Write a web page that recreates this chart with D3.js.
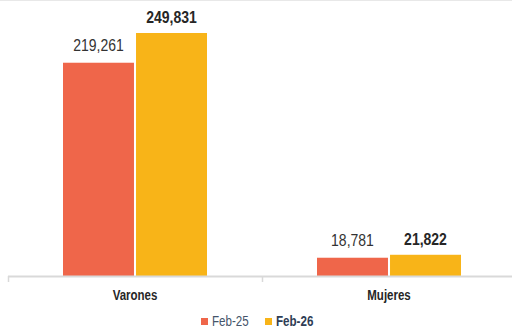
<!DOCTYPE html>
<html>
<head>
<meta charset="utf-8">
<script src="https://cdn.jsdelivr.net/npm/d3@7"></script>
<style>
  html, body { margin: 0; padding: 0; background: #fff; }
  svg { display: block; font-family: "Liberation Sans", Arial, sans-serif; }
</style>
</head>
<body>
<svg id="chart" width="512" height="330"></svg>
<script>
// Población por sexo, comparación Feb-25 vs Feb-26
const categories = ["Varones", "Mujeres"];
const seriesNames = ["Feb-25", "Feb-26"];
const feb25 = [219261, 18781];
const feb26 = [249831, 21822];
const seriesColors = ["#EF664A", "#F8B418"];

const svg = d3.select("#chart");
const W = 512, H = 330;
const baseY = 276;

// thin frame line at the top
svg.append("line")
  .attr("x1", 0).attr("x2", W).attr("y1", 0.5).attr("y2", 0.5)
  .attr("stroke", "#e8e8e8").attr("stroke-width", 1);

const x0 = d3.scaleBand().domain(categories).range([8, 516]).paddingInner(0).paddingOuter(0);
const x1 = d3.scaleBand().domain(seriesNames).range([0, 144]).paddingInner(0.028);
const y = d3.scaleLinear().domain([0, 280000]).range([baseY, baseY - 280000 * 243 / 249831]);

const values = [feb25, feb26];

const groups = svg.selectAll("g.cat")
  .data(categories)
  .join("g")
  .attr("class", "cat")
  .attr("transform", c => `translate(${x0(c) + (x0.bandwidth() - 144) / 2},0)`);

groups.each(function(c, ci) {
  const g = d3.select(this);
  seriesNames.forEach((s, si) => {
    const v = values[si][ci];
    g.append("rect")
      .attr("x", x1(s))
      .attr("width", x1.bandwidth())
      .attr("y", y(v))
      .attr("height", baseY - y(v))
      .attr("fill", seriesColors[si]);
    const lx = x1(s) + x1.bandwidth() / 2;
    const ly = y(v) - (si === 0 ? 12 : 10);
    g.append("text")
      .attr("transform", `translate(${lx},${ly}) scale(1,1.15)`)
      .attr("text-anchor", "middle")
      .attr("font-size", si === 0 ? 14 : 14)
      .attr("font-weight", si === 0 ? "normal" : "bold")
      .attr("fill", si === 0 ? "#333333" : "#262626")
      .text(d3.format(",")(v));
  });
});

// category axis
const axis = d3.axisBottom(x0).tickSize(0).tickPadding(0);
const ax = svg.append("g").attr("transform", `translate(0,${baseY})`);
ax.append("line").attr("x1", 8).attr("x2", W).attr("y1", 0.5).attr("y2", 0.5)
  .attr("stroke", "#d9d9d9").attr("stroke-width", 2);
[8, x0("Mujeres")].forEach(t => {
  ax.append("line").attr("x1", t + 0.5).attr("x2", t + 0.5).attr("y1", 0).attr("y2", 6)
    .attr("stroke", "#d9d9d9").attr("stroke-width", 1.5);
});
categories.forEach(c => {
  const cx = x0(c) + x0.bandwidth() / 2;
  ax.append("text")
    .attr("transform", `translate(${cx - 0},${24}) scale(1,1.2)`)
    .attr("text-anchor", "middle")
    .attr("font-size", 11.5)
    .attr("font-weight", "bold")
    .attr("fill", "#262626")
    .text(c);
});

// legend
const legend = svg.append("g").attr("transform", "translate(0,326)");
const legendItems = [
  { name: seriesNames[0], color: seriesColors[0], x: 201, weight: "normal", text: "#44546A" },
  { name: seriesNames[1], color: seriesColors[1], x: 265, weight: "bold", text: "#2E3D55" }
];
legendItems.forEach(it => {
  legend.append("rect").attr("x", it.x).attr("y", -8).attr("width", 7).attr("height", 7).attr("fill", it.color);
  legend.append("text")
    .attr("transform", `translate(${it.x + 11},0) scale(1,1.2)`)
    .attr("font-size", 11.6)
    .attr("font-weight", it.weight)
    .attr("fill", it.text)
    .text(it.name);
});
</script>
</body>
</html>
